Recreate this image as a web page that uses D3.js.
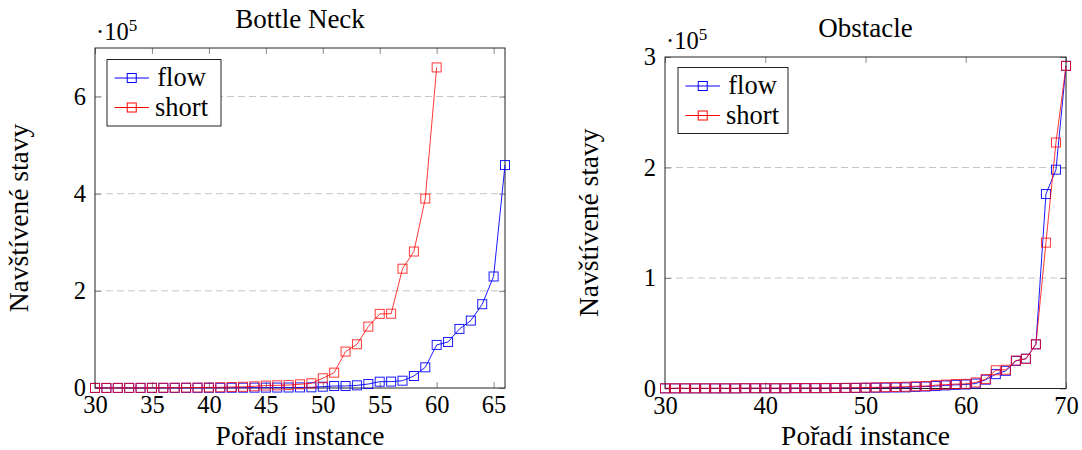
<!DOCTYPE html>
<html>
<head>
<meta charset="utf-8">
<script src="https://cdn.jsdelivr.net/npm/d3@7"></script>
<style>
  body { margin: 0; background: #fff; }
</style>
</head>
<body>
<svg id="chart" width="1082" height="450"></svg>
<script>
// Bottle Neck: instances 30..66 (flow), 30..60 (short)
var bottleX0 = 30;
var flowBottle = [100, 100, 100, 100, 100, 200, 200, 200, 300, 300, 400, 400, 500, 600, 700, 800, 900, 1000, 1200, 1400,
  2700, 4100, 4100, 5500, 8200, 13000, 13200, 15000, 24700, 42600, 88700, 94800, 121600, 138800, 172500, 229600, 459000];
var shortBottle = [200, 200, 300, 300, 400, 500, 600, 700, 800, 1000, 1200, 1500, 2000, 2500, 3500, 5000, 5500, 6000, 7600, 9700,
  20000, 31600, 75000, 90000, 126400, 152600, 153000, 245600, 281000, 390000, 660000];

// Obstacle: instances 30..70
var obstacleX0 = 30;
var flowObstacle = [100, 100, 100, 100, 100, 100, 100, 100, 200, 200, 200, 200, 200, 300, 300, 300, 300, 400, 400, 500,
  600, 700, 800, 900, 1000, 1500, 1800, 2200, 2800, 3300, 3600, 4500, 8000, 13000, 16000, 25000, 27000, 40000, 176000, 198000, 292000];
var shortObstacle = [200, 200, 200, 200, 200, 200, 200, 200, 300, 300, 300, 300, 300, 400, 400, 400, 500, 500, 600, 700,
  800, 1000, 1200, 1400, 1600, 2000, 2200, 3000, 3500, 4000, 4200, 5500, 8500, 16500, 17000, 25300, 26800, 40000, 132000, 222600, 292000];

var bottleXTicks = [30, 35, 40, 45, 50, 55, 60, 65];
var bottleYTicks = [0, 200000, 400000, 600000];
var obstacleXTicks = [30, 40, 50, 60, 70];
var obstacleYTicks = [0, 100000, 200000, 300000];

var seriesNames = ["flow", "short"];
var seriesColors = ["#0000ff", "#ff0000"];

var FONT = "'Liberation Serif', 'Times New Roman', serif";

var svg = d3.select("#chart");

function toPoints(values, x0) {
  return values.map(function (v, i) { return { x: x0 + i, y: v }; });
}

function drawPanel(cfg) {
  var g = svg.append("g");
  var x = d3.scaleLinear().domain(cfg.xDomain).range([cfg.left, cfg.right]);
  var y = d3.scaleLinear().domain(cfg.yDomain).range([cfg.bottom, cfg.top]);

  // dashed grid
  g.selectAll(".grid")
    .data(cfg.yTicks.filter(function (t) { return t > cfg.yDomain[0] && t < cfg.yDomain[1]; }))
    .enter()
    .append("line")
    .attr("x1", cfg.left).attr("x2", cfg.right)
    .attr("y1", function (d) { return y(d); })
    .attr("y2", function (d) { return y(d); })
    .attr("stroke", "#c4c4c4")
    .attr("stroke-width", 1)
    .attr("stroke-dasharray", "7,4");

  var fmt = function (d) { return d / 1e5; };

  var axes = [
    [d3.axisBottom(x).tickValues(cfg.xTicks).tickFormat(d3.format("d")), "translate(0," + cfg.bottom + ")"],
    [d3.axisTop(x).tickValues(cfg.xTicks).tickFormat(""), "translate(0," + cfg.top + ")"],
    [d3.axisLeft(y).tickValues(cfg.yTicks).tickFormat(fmt), "translate(" + cfg.left + ",0)"],
    [d3.axisRight(y).tickValues(cfg.yTicks).tickFormat(""), "translate(" + cfg.right + ",0)"]
  ];
  axes.forEach(function (a, i) {
    var ax = g.append("g")
      .attr("transform", a[1])
      .call(a[0].tickSize(-6).tickPadding(i == 2 ? 9 : 8));
    ax.select(".domain").remove();
    ax.selectAll("line").attr("stroke", "#8a8a8a").attr("stroke-width", 1);
    ax.selectAll("text")
      .style("font-family", FONT)
      .style("font-size", "24.5px")
      .attr("fill", "#000");
  });

  // frame
  g.append("rect")
    .attr("x", cfg.left).attr("y", cfg.top)
    .attr("width", cfg.right - cfg.left).attr("height", cfg.bottom - cfg.top)
    .attr("fill", "none").attr("stroke", "#222").attr("stroke-width", 1);

  // series
  var line = d3.line()
    .x(function (d) { return x(d.x); })
    .y(function (d) { return y(d.y); });

  cfg.series.forEach(function (s, i) {
    var pts = toPoints(s, cfg.x0);
    var op = i == 1 ? 0.78 : 0.9;
    g.append("path")
      .datum(pts)
      .attr("d", line)
      .attr("fill", "none")
      .attr("stroke", seriesColors[i])
      .attr("stroke-opacity", op)
      .attr("stroke-width", 1);
    g.selectAll(".m" + i)
      .data(pts)
      .enter()
      .append("rect")
      .attr("x", function (d) { return x(d.x) - 4.5; })
      .attr("y", function (d) { return y(d.y) - 4.5; })
      .attr("width", 9).attr("height", 9)
      .attr("fill", "none")
      .attr("stroke", seriesColors[i])
      .attr("stroke-opacity", op)
      .attr("stroke-width", 1);
  });

  // title
  g.append("text")
    .attr("x", (cfg.left + cfg.right) / 2)
    .attr("y", cfg.top - 20)
    .attr("text-anchor", "middle")
    .style("font-family", FONT)
    .style("font-size", "27px")
    .text(cfg.title);

  // scale factor
  var sc = g.append("text")
    .attr("x", cfg.left + 1)
    .attr("y", cfg.top - 8)
    .style("font-family", FONT)
    .style("font-size", "24.5px");
  sc.append("tspan").text("\u00b710");
  sc.append("tspan").attr("dy", -9).style("font-size", "17px").text("5");

  // axis labels
  g.append("text")
    .attr("x", (cfg.left + cfg.right) / 2)
    .attr("y", 445)
    .attr("text-anchor", "middle")
    .style("font-family", FONT)
    .style("font-size", "27.5px")
    .text("Pořadí instance");

  g.append("text")
    .attr("transform", "translate(" + (cfg.left - 67) + "," + ((cfg.top + cfg.bottom) / 2) + ") rotate(-90)")
    .attr("text-anchor", "middle")
    .style("font-family", FONT)
    .style("font-size", "27.5px")
    .text("Navštívené stavy");

  // legend
  var lg = cfg.legend;
  g.append("rect")
    .attr("x", lg.x).attr("y", lg.y)
    .attr("width", lg.w).attr("height", lg.h)
    .attr("fill", "#fff").attr("stroke", "#222").attr("stroke-width", 1);
  seriesNames.forEach(function (name, i) {
    var yy = lg.y + 18.5 + i * 29.5;
    g.append("line")
      .attr("x1", lg.x + 7.5).attr("x2", lg.x + 42)
      .attr("y1", yy).attr("y2", yy)
      .attr("stroke", seriesColors[i]).attr("stroke-width", 1);
    g.append("rect")
      .attr("x", lg.x + 24.75 - 4.5).attr("y", yy - 4.5)
      .attr("width", 9).attr("height", 9)
      .attr("fill", "none")
      .attr("stroke", seriesColors[i]).attr("stroke-width", 1);
    g.append("text")
      .attr("x", lg.x + 74.5)
      .attr("y", yy + 8)
      .attr("text-anchor", "middle")
      .style("font-family", FONT)
      .style("font-size", "26.5px")
      .text(name);
  });
}

drawPanel({
  left: 95, right: 505, top: 48, bottom: 388,
  xDomain: [30, 66], yDomain: [0, 700000],
  xTicks: bottleXTicks, yTicks: bottleYTicks,
  x0: bottleX0, series: [flowBottle, shortBottle],
  title: "Bottle Neck",
  legend: { x: 107, y: 59.5, w: 114, h: 66.5 }
});

drawPanel({
  left: 665, right: 1066, top: 57, bottom: 388.5,
  xDomain: [30, 70], yDomain: [0, 300000],
  xTicks: obstacleXTicks, yTicks: obstacleYTicks,
  x0: obstacleX0, series: [flowObstacle, shortObstacle],
  title: "Obstacle",
  legend: { x: 678, y: 67.5, w: 110, h: 66 }
});
</script>
</body>
</html>
